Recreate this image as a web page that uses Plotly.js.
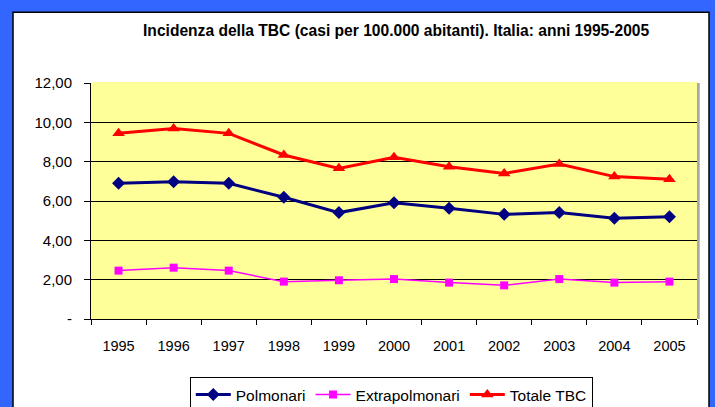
<!DOCTYPE html>
<html>
<head>
<meta charset="utf-8">
<script src="https://cdn.plot.ly/plotly-3.0.1.min.js"></script>
<style>html,body{margin:0;padding:0;background:#3366FF;}#chart{width:715px;height:407px;}</style>
</head>
<body>
<div id="chart"></div>
<script>
const years = ["1995","1996","1997","1998","1999","2000","2001","2002","2003","2004","2005"];
const polmonari = [6.90, 6.98, 6.90, 6.19, 5.41, 5.91, 5.63, 5.32, 5.41, 5.12, 5.20];
const extrapolmonari = [2.46, 2.61, 2.46, 1.90, 1.97, 2.03, 1.85, 1.71, 2.03, 1.85, 1.90];
const totaleTBC = [9.45, 9.69, 9.44, 8.34, 7.66, 8.22, 7.74, 7.40, 7.88, 7.24, 7.10];
const yTickVals = [0, 2, 4, 6, 8, 10, 12];
const yTickText = ["-", "2,00", "4,00", "6,00", "8,00", "10,00", "12,00"];

const traces = [
  {x: years, y: polmonari, name: "Polmonari", type: "scatter", mode: "lines+markers",
   line: {color: "#000080", width: 3}, marker: {symbol: "diamond", size: 10, color: "#000080"}},
  {x: years, y: extrapolmonari, name: "Extrapolmonari", type: "scatter", mode: "lines+markers",
   line: {color: "#FF00FF", width: 1.5}, marker: {symbol: "square", size: 8, color: "#FF00FF"}},
  {x: years, y: totaleTBC, name: "Totale TBC", type: "scatter", mode: "lines+markers",
   line: {color: "#FF0000", width: 3}, marker: {symbol: "triangle-up", size: 11, color: "#FF0000"}}
];

const layout = {
  width: 715, height: 407,
  margin: {l: 91, r: 18, t: 83, b: 88, autoexpand: false},
  paper_bgcolor: "#3366FF",
  plot_bgcolor: "#FFFF99",
  font: {family: "Liberation Sans, Arial, sans-serif", size: 14, color: "#000"},
  title: {text: "<b>Incidenza della TBC (casi per 100.000 abitanti). Italia: anni 1995-2005</b>",
          font: {size: 15.6, color: "#000"}, x: 0.554, xanchor: "center", y: 0.926, yanchor: "middle"},
  xaxis: {type: "category", range: [-0.5, 10.5], showline: true, linecolor: "#000", linewidth: 1, mirror: false,
          ticks: "outside", ticklen: 5, tickcolor: "#000", tickson: "boundaries",
          showgrid: false, zeroline: false, tickfont: {size: 14.5}, ticklabelstandoff: 14, fixedrange: true},
  yaxis: {range: [0, 12], tickvals: yTickVals, ticktext: yTickText, showline: true, linecolor: "#000",
          linewidth: 1, ticks: "outside", ticklen: 6, tickcolor: "#000", showgrid: true,
          gridcolor: "#000", gridwidth: 1, zeroline: false, tickfont: {size: 15}, ticklabelstandoff: 9},
  showlegend: true,
  legend: {orientation: "h", x: 0.163, xanchor: "left", y: -0.2458, yanchor: "top",
           bgcolor: "#FFFFFF", bordercolor: "#000", borderwidth: 1, font: {size: 15.5},
           itemwidth: 35, tracegroupgap: 0},
  shapes: [
    {type: "rect", xref: "paper", yref: "paper", x0: -0.1287, x1: 1.0198, y0: -0.45, y1: 1.3,
     fillcolor: "#FFFFFF", line: {color: "#000", width: 1.5}, layer: "below"},
    {type: "rect", xref: "paper", yref: "paper", x0: 1.0, x1: 1.0045, y0: 0, y1: 1,
     fillcolor: "#A8A8A8", line: {width: 0}, layer: "below"},
    {type: "rect", xref: "paper", yref: "paper", x0: 0, x1: 1, y0: 0, y1: 1,
     fillcolor: "#FFFF99", line: {width: 0}, layer: "below"},
    {type: "line", xref: "paper", yref: "paper", x0: 0.002, x1: 1, y0: 1, y1: 1,
     line: {color: "#FFFF99", width: 2}, layer: "above"}
  ]
};

Plotly.newPlot("chart", traces, layout, {displayModeBar: false, staticPlot: true});
</script>
</body>
</html>
